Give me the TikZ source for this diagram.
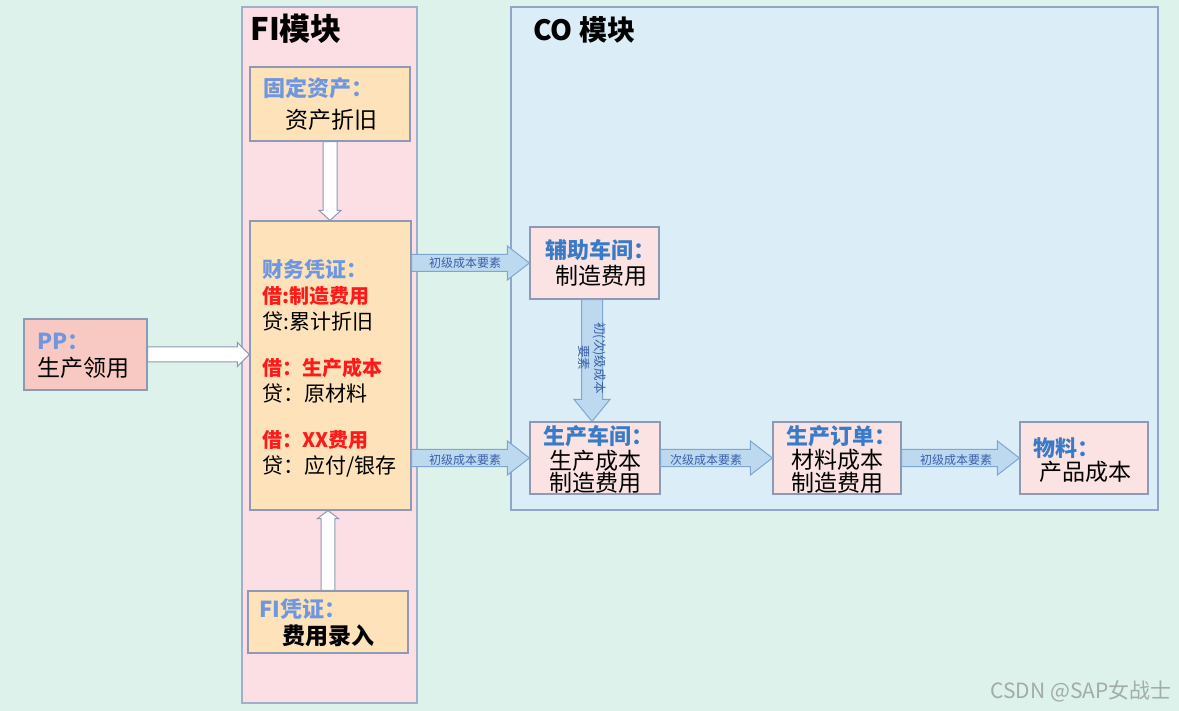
\documentclass[tikz,border=0pt]{standalone}
\usepackage{fontspec}
\setmainfont{Noto Sans CJK SC}
\usetikzlibrary{calc}
\definecolor{bg}{HTML}{DCF2EA}
\definecolor{fifill}{HTML}{FCDFE5}
\definecolor{fiborder}{HTML}{A3AFC9}
\definecolor{cofill}{HTML}{DBEEF8}
\definecolor{coborder}{HTML}{8FA6C8}
\definecolor{orfill}{HTML}{FDE2BA}
\definecolor{boxborder}{HTML}{8E9AB3}
\definecolor{pkfill}{HTML}{FBE3E3}
\definecolor{ppfill}{HTML}{F8C9C2}
\definecolor{arrfill}{HTML}{BCD9F0}
\definecolor{arrborder}{HTML}{7FA6CF}
\definecolor{lblue}{HTML}{6F97E0}
\definecolor{dblue}{HTML}{3A7BC8}
\definecolor{lblcol}{HTML}{3A5FA8}
\definecolor{redt}{HTML}{FF1A1A}
\definecolor{wmark}{HTML}{A3ABAB}
\newcommand\blkH[6]{\path[#1] let \p1=#2, \p2=#3 in
  (\x1,{\y1+#4}) -- ({\x2-#6},{\y1+#4}) -- ({\x2-#6},{\y1+#5}) -- (\x2,\y1) --
  ({\x2-#6},{\y1-#5}) -- ({\x2-#6},{\y1-#4}) -- (\x1,{\y1-#4}) -- cycle;}
\newcommand\blkV[6]{\path[#1] let \p1=#2, \p2=#3 in
  ({\x1-#4},\y1) -- ({\x1-#4},{\y2+(#6)}) -- ({\x1-#5},{\y2+(#6)}) -- (\x1,\y2) --
  ({\x1+#5},{\y2+(#6)}) -- ({\x1+#4},{\y2+(#6)}) -- ({\x1+#4},\y1) -- cycle;}
\tikzset{
  module/.style={draw=#1, line width=0.6pt, inner sep=0pt},
  box/.style={draw=boxborder, line width=0.6pt, inner sep=0pt},
  txt/.style={inner sep=0pt, font=\fontsize{11.5}{13}\selectfont},
  ftxt/.style={inner sep=0pt, anchor=west, font=\fontsize{10.5}{13}\selectfont},
  ttl/.style={inner sep=0pt, anchor=west, font=\fontsize{11}{13}\selectfont\bfseries},
  bluearr/.style={fill=arrfill, draw=arrborder, line width=0.5pt},
  whitearr/.style={fill=white, draw=boxborder, line width=0.5pt},
  lbl/.style={inner sep=0pt, text=lblcol, font=\fontsize{6}{7}\selectfont}
}
\begin{document}
\begin{tikzpicture}[x=0.5pt,y=-0.5pt]
\useasboundingbox[fill=bg] (0,0) rectangle (1179,711);
% modules
\node[module=fiborder, fill=fifill, minimum width=87.5pt, minimum height=348pt] (fi) at (329.5,355) {};
\node[module=coborder, fill=cofill, minimum width=323.5pt, minimum height=251.5pt] (co) at (834.5,258.5) {};
\node[inner sep=0pt, anchor=west, font=\fontsize{15.5}{17}\selectfont\bfseries] (fititle) at (250,29) {FI模块};
\node[inner sep=0pt, anchor=west, font=\fontsize{14}{16}\selectfont\bfseries] (cotitle) at (533,30) {CO\ 模块};
% boxes
\node[box, fill=orfill, minimum width=80pt, minimum height=37pt] (fixed) at (330,104) {};
\node[box, fill=orfill, minimum width=80.5pt, minimum height=144.5pt] (fin) at (330.5,365.5) {};
\node[box, fill=orfill, minimum width=80pt, minimum height=31pt] (fiv) at (328,622) {};
\node[box, fill=ppfill, minimum width=61.5pt, minimum height=35.5pt] (pp) at (85.5,354.5) {};
\node[box, fill=pkfill, minimum width=64.5pt, minimum height=36pt] (aux) at (594.5,263) {};
\node[box, fill=pkfill, minimum width=65pt, minimum height=36pt] (prod) at (595,458) {};
\node[box, fill=pkfill, minimum width=64pt, minimum height=36pt] (order) at (837,458) {};
\node[box, fill=pkfill, minimum width=64pt, minimum height=36pt] (mat) at (1084,458) {};
\coordinate (vx) at (592,0);
% texts
\node[ttl, text=lblue] (t1) at (263,88) {固定资产：};
\node[txt] (t2) at (331,120) {资产折旧};
\node[ftxt, text=lblue, font=\fontsize{10.5}{13}\selectfont\bfseries] (f1) at (262,270) {财务凭证：};
\node[ftxt, text=redt, font=\fontsize{10}{13}\selectfont\bfseries] (f2) at (262,296) {借:制造费用};
\node[ftxt] (f3) at (262,322) {贷:累计折旧};
\node[ftxt, text=redt, font=\fontsize{10}{13}\selectfont\bfseries] (f4) at (262,368) {借：生产成本};
\node[ftxt] (f5) at (262,394) {贷：原材料};
\node[ftxt, text=redt, font=\fontsize{10}{13}\selectfont\bfseries] (f6) at (262,440) {借：XX费用};
\node[ftxt] (f7) at (262,466) {贷：应付/银存};
\node[ttl, text=lblue] (p1) at (37,341) {PP：};
\node[txt, anchor=west] (p2) at (37,368) {生产领用};
\node[ttl, text=lblue] (v1) at (259,609) {FI凭证：};
\node[txt, font=\fontsize{11.5}{13}\selectfont\bfseries] (v2) at (328,636) {费用录入};
\node[ttl, text=dblue] (a1) at (545,250) {辅助车间：};
\node[txt, anchor=west] (a2) at (555,276) {制造费用};
\node[ttl, text=dblue] (s1) at (543,436) {生产车间：};
\node[txt] (s2) at (595,461) {生产成本};
\node[txt] (s3) at (595,483) {制造费用};
\node[ttl, text=dblue] (o1) at (786,436) {生产订单：};
\node[txt] (o2) at (837,460) {材料成本};
\node[txt] (o3) at (837,483) {制造费用};
\node[ttl, text=dblue] (m1) at (1033,448) {物料：};
\node[txt] (m2) at (1085,472) {产品成本};
% arrows
\blkV{whitearr}{(fixed.south)}{(fin.north)}{3.5pt}{5.5pt}{5pt}
\blkV{whitearr}{(fiv.north)}{(fin.south)}{3.4pt}{5.3pt}{-4pt}
\blkH{whitearr}{(pp.east)}{(fin.west |- pp.east)}{3.75pt}{6pt}{6pt}
\blkH{bluearr}{(fin.east |- aux.west)}{(aux.west)}{4.25pt}{8.5pt}{11pt}
\blkH{bluearr}{(fin.east |- prod.west)}{(prod.west)}{4.25pt}{8.5pt}{11pt}
\blkH{bluearr}{(prod.east)}{(order.west)}{4.25pt}{8.5pt}{11pt}
\blkH{bluearr}{(order.east)}{(mat.west)}{4.25pt}{8.5pt}{11pt}
\blkV{bluearr}{(aux.south -| vx)}{(prod.north -| vx)}{5.25pt}{9pt}{11pt}
\node[lbl] (l1) at (465,263) {初级成本要素};
\node[lbl] (l2) at (465,460) {初级成本要素};
\node[lbl] (l3) at (706,460) {次级成本要素};
\node[lbl] (l4) at (956,460) {初级成本要素};
\node[lbl, rotate=-90, align=center, font=\fontsize{6.3}{8}\selectfont] (l5) at (592,358) {初(次)级成本\\要素};
% watermark
\node[inner sep=0pt, anchor=east, text=wmark, font=\fontsize{10.5}{12}\selectfont] (wm) at (1172,691) {CSDN @SAP女战士};
\end{tikzpicture}
\end{document}
